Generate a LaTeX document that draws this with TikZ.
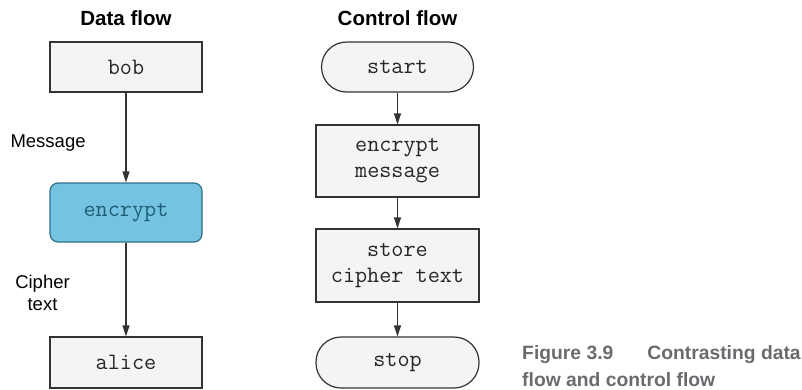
\documentclass[tikz,border=0pt]{standalone}
\usepackage{fontspec}
\setmainfont{Liberation Sans}
\usetikzlibrary{arrows.meta}
\definecolor{boxfill}{HTML}{F2F4F5}
\definecolor{linec}{HTML}{333333}
\definecolor{blufill}{HTML}{74C3E1}
\definecolor{bluedge}{HTML}{2F6F88}
\definecolor{blutext}{HTML}{1F5F75}
\definecolor{capc}{HTML}{6A6B6E}
\tikzset{
  x=1pt, y=-1pt,
  box/.style={draw=linec, fill=boxfill, line width=1.2pt, inner sep=0pt,
    font=\ttfamily\fontsize{23.5}{26}\selectfont, text=black!85, align=center},
  procbox/.style={box, rounded corners=8pt, fill=blufill, draw=bluedge, text=blutext},
  termbox/.style={box, rounded corners=25pt},
  flow/.style={draw=linec, line width=1.2pt, -{Stealth[length=11pt,width=7pt,inset=0pt]}},
  title/.style={font=\bfseries\fontsize{20.5}{24}\selectfont},
  lbl/.style={font=\fontsize{18.5}{22}\selectfont, align=center},
  captext/.style={font=\bfseries\fontsize{19.3}{27}\selectfont, text=capc, align=left}
}
\begin{document}
\begin{tikzpicture}
\useasboundingbox (0,0) rectangle (802,389);
% data flow column
\node[title] (tdata) at (126,18) {Data flow};
\node[box, minimum width=152pt, minimum height=50pt] (bob) at (126,67) {bob};
\node[procbox, minimum width=152pt, minimum height=59pt] (enc) at (126,212.5) {encrypt};
\node[box, minimum width=152pt, minimum height=51pt] (alice) at (126,362.5) {alice};
\node[lbl, anchor=west] (msg) at (7,143) {Message};
\node[lbl] (ctext) at (42.5,293) {Cipher\\text};
\draw[flow] (bob) -- (enc);
\draw[flow] (enc) -- (alice);
% control flow column
\node[title] (tctrl) at (397.5,18) {Control flow};
\node[termbox, minimum width=152pt, minimum height=50pt] (start) at (397.5,67) {start};
\node[box, minimum width=163pt, minimum height=72pt] (encmsg) at (397.5,161) {encrypt\\message};
\node[box, minimum width=163pt, minimum height=73pt] (store) at (397.5,265.5) {store\\cipher text};
\node[termbox, minimum width=163pt, minimum height=51pt] (stop) at (397.5,362.5) {stop};
\draw[flow] (start) -- (encmsg);
\draw[flow] (encmsg) -- (store);
\draw[flow] (store) -- (stop);
% caption (base anchor sits on the last line)
\node[captext, anchor=base west, inner sep=0pt] (caption) at (522,386)
  {Figure 3.9\hspace{34pt}Contrasting data\\flow and control flow};
\end{tikzpicture}
\end{document}
